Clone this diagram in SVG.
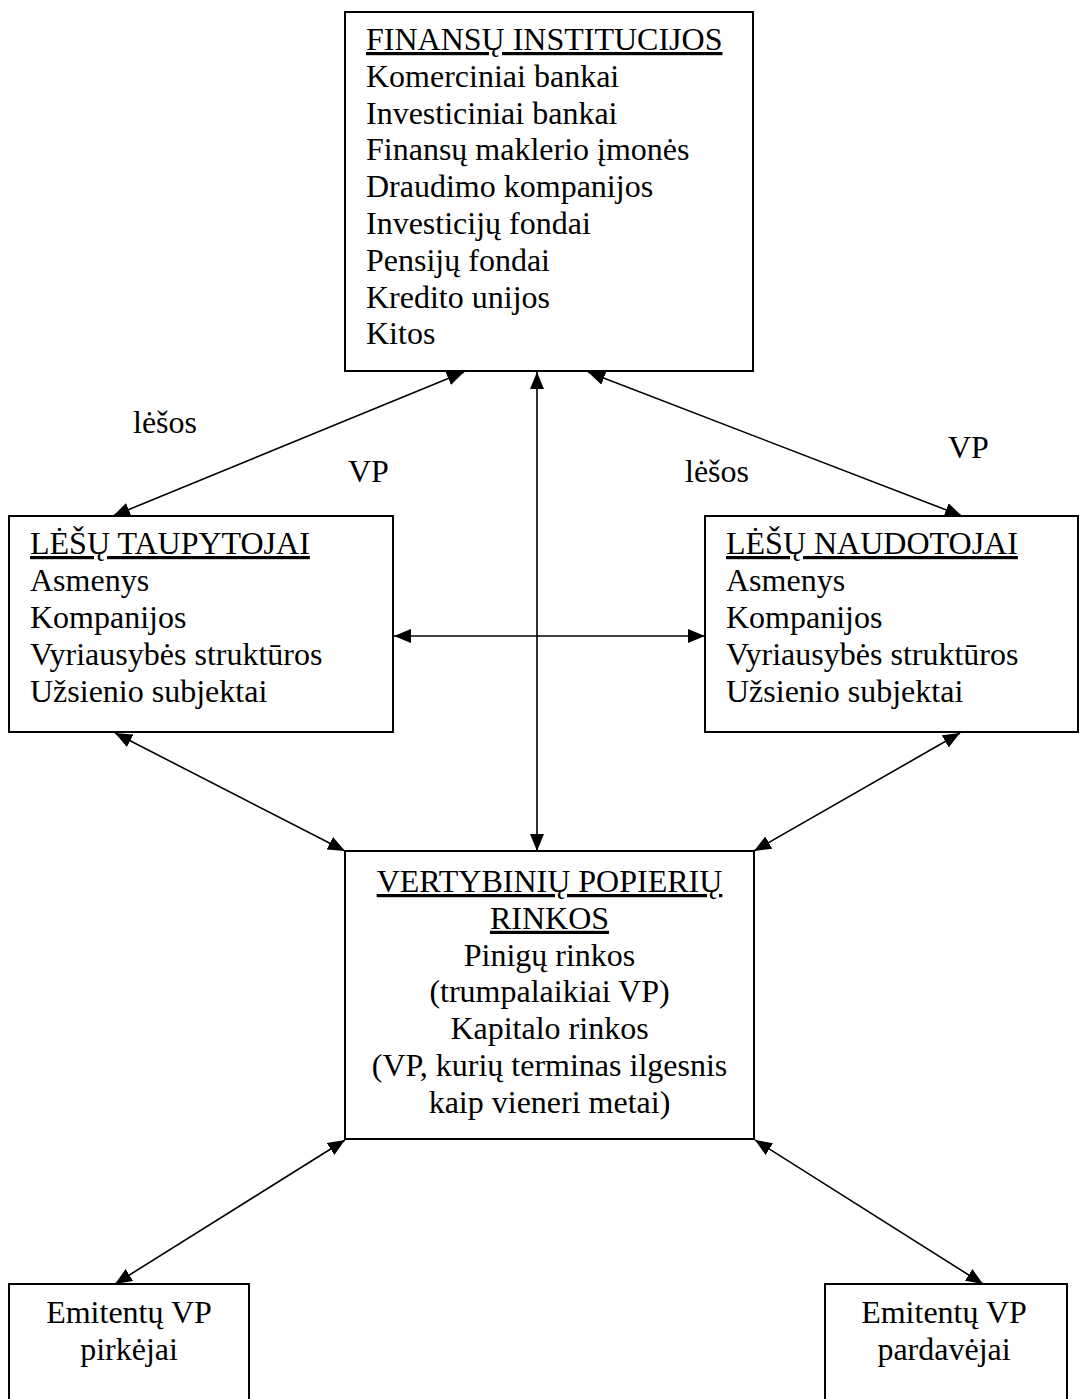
<svg xmlns="http://www.w3.org/2000/svg" width="1080" height="1399" viewBox="0 0 1080 1399">
<style>
text{font-family:"Liberation Serif","Times New Roman",serif;font-size:32px;fill:#000}
.u{text-decoration:underline}
.c{text-anchor:middle}
.box{fill:#fff;stroke:#000;stroke-width:2}
.con{stroke:#000;stroke-width:1.6;fill:none;marker-start:url(#ah);marker-end:url(#ah)}
</style>
<defs>
<marker id="ah" markerUnits="userSpaceOnUse" markerWidth="17" markerHeight="14" refX="17" refY="7" orient="auto-start-reverse" viewBox="0 0 17 14">
<path d="M0,0 L17,7 L0,14 z" fill="#000"/>
</marker>
</defs>
<rect width="1080" height="1399" fill="#fff"/>
<g id="connectors">
<line class="con" x1="464" y1="372" x2="113" y2="516"/>
<line class="con" x1="588" y1="372" x2="962" y2="516"/>
<line class="con" x1="537" y1="372" x2="537" y2="851"/>
<line class="con" x1="394" y1="636" x2="705" y2="636"/>
<line class="con" x1="115" y1="733" x2="345" y2="851"/>
<line class="con" x1="960" y1="733" x2="754" y2="851"/>
<line class="con" x1="345" y1="1140" x2="115" y2="1284"/>
<line class="con" x1="755" y1="1140" x2="983" y2="1284"/>
</g>
<g id="labels">
<text x="133" y="433">lėšos</text>
<text x="348" y="482">VP</text>
<text x="685" y="482">lėšos</text>
<text x="948" y="458">VP</text>
</g>
<g id="finansu-institucijos">
<rect class="box" x="345" y="12" width="408" height="359"/>
<text x="366" y="50" class="u">FINANSŲ INSTITUCIJOS</text>
<text x="366" y="86.8">Komerciniai bankai</text>
<text x="366" y="123.6">Investiciniai bankai</text>
<text x="366" y="160.4">Finansų maklerio įmonės</text>
<text x="366" y="197.2">Draudimo kompanijos</text>
<text x="366" y="234">Investicijų fondai</text>
<text x="366" y="270.8">Pensijų fondai</text>
<text x="366" y="307.6">Kredito unijos</text>
<text x="366" y="344.4">Kitos</text>
</g>
<g id="lesu-taupytojai">
<rect class="box" x="9" y="516" width="384" height="216"/>
<text x="30" y="554" class="u">LĖŠŲ TAUPYTOJAI</text>
<text x="30" y="591">Asmenys</text>
<text x="30" y="628">Kompanijos</text>
<text x="30" y="665">Vyriausybės struktūros</text>
<text x="30" y="702">Užsienio subjektai</text>
</g>
<g id="lesu-naudotojai">
<rect class="box" x="705" y="516" width="373" height="216"/>
<text x="726" y="554" class="u">LĖŠŲ NAUDOTOJAI</text>
<text x="726" y="591">Asmenys</text>
<text x="726" y="628">Kompanijos</text>
<text x="726" y="665">Vyriausybės struktūros</text>
<text x="726" y="702">Užsienio subjektai</text>
</g>
<g id="vp-rinkos">
<rect class="box" x="345" y="851" width="409" height="288"/>
<text x="549.5" y="892" class="c u">VERTYBINIŲ POPIERIŲ</text>
<text x="549.5" y="928.8" class="c u">RINKOS</text>
<text x="549.5" y="965.6" class="c">Pinigų rinkos</text>
<text x="549.5" y="1002.4" class="c">(trumpalaikiai VP)</text>
<text x="549.5" y="1039.2" class="c">Kapitalo rinkos</text>
<text x="549.5" y="1076" class="c">(VP, kurių terminas ilgesnis</text>
<text x="549.5" y="1112.8" class="c">kaip vieneri metai)</text>
</g>
<g id="pirkejai">
<rect class="box" x="9" y="1284" width="240" height="200"/>
<text x="129" y="1323" class="c">Emitentų VP</text>
<text x="129" y="1360" class="c">pirkėjai</text>
</g>
<g id="pardavejai">
<rect class="box" x="825" y="1284" width="242" height="200"/>
<text x="944" y="1323" class="c">Emitentų VP</text>
<text x="944" y="1360" class="c">pardavėjai</text>
</g>
</svg>
